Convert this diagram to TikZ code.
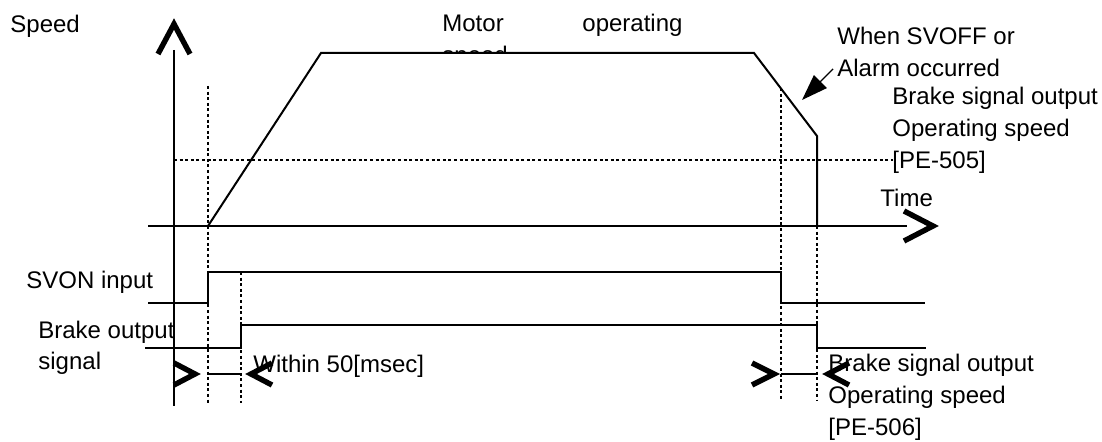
\documentclass[tikz,border=0pt]{standalone}
\usepackage{fontspec}
\setmainfont{Liberation Sans}
\usetikzlibrary{arrows.meta}
\begin{document}
\begin{tikzpicture}[x=0.5pt,y=-0.5pt,
  sig/.style={line width=1pt, line join=miter},
  guide/.style={line width=1pt, dash pattern=on 1.5pt off 1.3pt},
  bigtip/.style={line width=2.7pt, line join=miter, miter limit=10},
  lbl/.style={anchor=base west, inner sep=0pt, font=\fontsize{12}{16}\selectfont},
  callout/.style={line width=0.7pt, -{Triangle[length=13pt,width=9pt]}},
]
\useasboundingbox[fill=white] (0,0) rectangle (1102,442);

% key time instants
\coordinate (t0)  at (208,226);
\coordinate (top1) at (321,53);
\coordinate (top2) at (754,53);
\coordinate (stop) at (817,136);
\coordinate (t3)  at (817,226);

% guide lines
\draw[guide] (208,86) -- (208,403);
\draw[guide] (241,272) -- (241,403);
\draw[guide] (781,88) -- (781,400);
\draw[guide] (817,226) -- (817,400);
\draw[guide] (174,160) -- (893,160);

% axes
\draw[sig] (174,50) -- (174,406);
\draw[sig] (148,226) -- (907,226);
\draw[bigtip] (158,54) -- (174,24) -- (190,54);

% labels
\node[lbl] (speedlbl) at (10,33) {Speed};
\node[lbl] (motor) at (442,32) {Motor};
\begin{scope}
  \clip (430,0) rectangle (560,53);
  \node[lbl] (motor2) at (442,64) {speed};
\end{scope}
\node[lbl] (oper) at (582,32) {operating};
\node[lbl] (when1) at (837,45) {When SVOFF or};
\node[lbl] (when2) at (837,77) {Alarm occurred};
\node[lbl] (pe505a) at (892,105) {Brake signal output};
\node[lbl] (pe505b) at (892,137) {Operating speed};
\node[lbl] (pe505c) at (892,169) {[PE-505]};
\node[lbl] (timelbl) at (880,207) {Time};
\node[lbl] (svonlbl) at (26,289) {SVON input};
\node[lbl] (brk1) at (38,339) {Brake output};
\node[lbl] (brk2) at (38,370) {signal};
\node[lbl] (within) at (253,373) {Within 50[msec]};
\node[lbl] (pe506a) at (828,372) {Brake signal output};
\node[lbl] (pe506b) at (828,404) {Operating speed};
\node[lbl] (pe506c) at (828,436) {[PE-506]};

% time arrow head
\draw[bigtip] (904,211) -- (933,226) -- (904,241);

% motor speed profile
\draw[sig] (t0) -- (top1) -- (top2) -- (stop) -- (t3);

% SVON input
\draw[sig] (148,303) -- (208,303) -- (208,272) -- (781,272) -- (781,303) -- (925,303);

% brake output signal
\draw[sig] (145,348) -- (241,348) -- (241,325) -- (817,325) -- (817,348) -- (926,348);

% delay intervals
\draw[sig] (208,374) -- (241,374);
\draw[bigtip] (174,363) -- (195,374) -- (174,385);
\draw[bigtip] (272,363) -- (251,374) -- (272,385);
\draw[sig] (781,374) -- (817,374);
\draw[bigtip] (752,363) -- (774,374) -- (752,385);
\draw[bigtip] (849,363) -- (828,374) -- (849,385);

% callout arrow
\coordinate (calltip) at (802,100);
\draw[callout] (833,69) -- (calltip);
\end{tikzpicture}
\end{document}
